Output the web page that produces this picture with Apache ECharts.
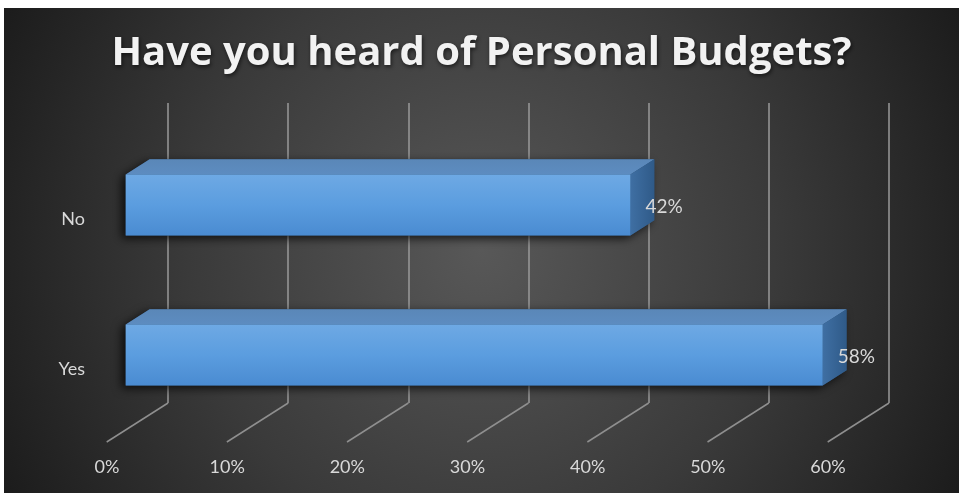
<!DOCTYPE html>
<html>
<head>
<meta charset="utf-8">
<script src="https://cdn.jsdelivr.net/npm/echarts@6/dist/echarts.min.js"></script>
<style>
html,body{margin:0;padding:0;background:#ffffff;width:959px;height:493px;overflow:hidden;}
#chart{position:absolute;left:4px;top:8px;width:955px;height:485px;}
</style>
</head>
<body>
<div id="chart"></div>
<script>
var titleText = 'Have you heard of Personal Budgets?';
var categories = ['Yes', 'No'];
var values = [58, 42];
var xTicks = [0, 10, 20, 30, 40, 50, 60];

// oblique projection constants (styling)
var DX = -61.3, DY = 39;          // back wall -> front floor edge
var FRONT = 0.69, BACK = 0.30;    // bar front/back planes (fraction of depth from back wall)
var BAR_HALF = 0.2033;            // bar half height as fraction of category band
var FONT = 'Lato, "Open Sans", sans-serif';

var chart = echarts.init(document.getElementById('chart'));

function barItem(params, api) {
  var v = api.value(0), i = api.value(1);
  var p0 = api.coord([0, i]);
  var p1 = api.coord([v, i]);
  var band = api.size([0, 1])[1];
  var h = band * BAR_HALF;
  var fx = DX * FRONT, fy = DY * FRONT;
  var bx = DX * BACK, by = DY * BACK;
  var L = p0[0], R = p1[0], cy = p0[1];
  var fL = L + fx, fR = R + fx, fT = cy - h + fy, fB = cy + h + fy;
  var bL = L + bx, bR = R + bx, bT = cy - h + by, bB = cy + h + by;
  return {
    type: 'group',
    children: [
      { type: 'polygon', shape: { points: [[fL, fT], [bL, bT], [bR, bT], [bR, bB], [fR, fB], [fL, fB]] },
        style: { fill: '#2d4f73', shadowBlur: 10, shadowColor: 'rgba(0,0,0,0.75)', shadowOffsetX: -4, shadowOffsetY: 3 } },
      { type: 'polygon', shape: { points: [[fL, fT], [bL, bT], [bR, bT], [fR, fT]] },
        style: { fill: new echarts.graphic.LinearGradient(0, 0, 0, 1, [{offset: 0, color: '#5a87b8'}, {offset: 1, color: '#5d8cc0'}]) } },
      { type: 'polygon', shape: { points: [[fR, fT], [bR, bT], [bR, bB], [fR, fB]] },
        style: { fill: new echarts.graphic.LinearGradient(0, 0, 1, 0, [{offset: 0, color: '#3f6fa3'}, {offset: 1, color: '#2f5a88'}]) } },
      { type: 'rect', shape: { x: fL, y: fT, width: fR - fL, height: fB - fT },
        style: { fill: new echarts.graphic.LinearGradient(0, 0, 0, 1, [{offset: 0, color: '#6ea9e4'}, {offset: 0.5, color: '#5b9ddf'}, {offset: 1, color: '#4a8bd1'}]) } },
      { type: 'text', style: { text: v + '%', x: fR + 15, y: (fT + fB) / 2 + 2, verticalAlign: 'middle', align: 'left',
        fill: '#d9d9d9', font: '19px ' + FONT } }
    ]
  };
}

function floorItem(params, api) {
  var t = api.value(0);
  var p = api.coord([t, 0]);
  var band = api.size([0, 1])[1];
  var yb = p[1] + band / 2;
  return { type: 'line', shape: { x1: p[0], y1: yb, x2: p[0] + DX, y2: yb + DY },
    style: { stroke: '#8f8f8f', lineWidth: 1.5 } };
}

chart.setOption({
  backgroundColor: new echarts.graphic.RadialGradient(0.5, 0.5, 1.1, [
    {offset: 0, color: '#585858'}, {offset: 0.55, color: '#3a3a3a'}, {offset: 1, color: '#1c1c1c'}]),
  animation: false,
  title: {
    text: titleText, left: 'center', top: 21,
    textStyle: { color: '#f2f2f2', fontFamily: '"Open Sans", Lato, sans-serif', fontWeight: 'bold', fontSize: 40,
      textShadowColor: 'rgba(0,0,0,0.6)', textShadowBlur: 4, textShadowOffsetX: 1, textShadowOffsetY: 2 }
  },
  grid: { left: 164, right: 70, top: 95, height: 300 },
  xAxis: {
    type: 'value', min: 0, max: 60, interval: 10,
    axisLine: { show: false }, axisTick: { show: false },
    splitLine: { show: true, lineStyle: { color: '#9a9a9a', width: 1.5 } },
    axisLabel: { formatter: '{value}%', color: '#d9d9d9', fontSize: 18, fontFamily: FONT,
      margin: 55, padding: [0, 122, 0, 0] }
  },
  yAxis: {
    type: 'category', data: categories,
    axisLine: { show: false }, axisTick: { show: false }, splitLine: { show: false },
    axisLabel: { color: '#d9d9d9', fontSize: 18, fontFamily: FONT, margin: 83,
      verticalAlign: 'top', lineHeight: 82 }
  },
  series: [
    { type: 'custom', renderItem: floorItem, data: xTicks.map(function (t) { return [t]; }), silent: true, z: 1 },
    { type: 'custom', renderItem: barItem, data: values.map(function (v, i) { return [v, i]; }), z: 3 }
  ]
});
</script>
</body>
</html>
